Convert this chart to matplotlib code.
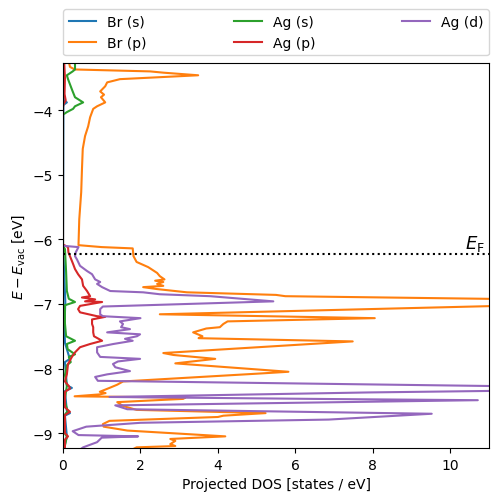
import matplotlib
matplotlib.use("Agg")
import matplotlib.pyplot as plt

# ---- data (energy in eV, projected DOS in states/eV) ----
E_F = -6.23

br_s_E = [-3.25, -3.85, -3.88, -3.92, -6.10, -6.50, -6.97, -7.30, -7.60, -7.80, -7.85, -7.90,
          -8.26, -8.30, -8.35, -8.66, -8.69, -8.73, -9.05, -9.25]
br_s_D = [0.01, 0.02, 0.10, 0.01, 0.00, 0.03, 0.06, 0.04, 0.05, 0.15, 0.18, 0.05,
          0.10, 0.23, 0.05, 0.10, 0.18, 0.05, 0.10, 0.02]

br_p_E = [-3.25, -3.33, -3.37, -3.40, -3.42, -3.46, -3.52, -3.57, -3.63, -3.71, -3.76, -3.80,
          -3.85, -3.88, -3.94, -3.98, -4.11, -4.25, -4.40, -4.60, -4.91, -5.27, -5.69, -6.09,
          -6.12, -6.14, -6.26, -6.35, -6.43, -6.52, -6.57, -6.62, -6.64, -6.66, -6.69, -6.72,
          -6.74, -6.77, -6.82, -6.86, -6.88, -6.96, -7.16, -7.22, -7.27, -7.31, -7.36, -7.38,
          -7.44, -7.50, -7.53, -7.58, -7.76, -7.79, -7.85, -7.92, -8.05, -8.08, -8.20, -8.25,
          -8.30, -8.36, -8.38, -8.40, -8.43, -8.45, -8.47, -8.52, -8.58, -8.64, -8.69, -8.73,
          -8.75, -8.81, -8.86, -8.90, -8.96, -9.05, -9.09, -9.12, -9.17, -9.20, -9.22, -9.25]
br_p_D = [0.15, 0.18, 0.30, 2.25, 2.60, 3.49, 1.47, 1.14, 1.09, 0.96, 1.06, 0.98,
          1.05, 1.09, 0.88, 0.78, 0.70, 0.65, 0.57, 0.51, 0.49, 0.47, 0.42, 0.40,
          1.00, 1.80, 1.82, 1.90, 2.20, 2.43, 2.50, 2.62, 2.38, 2.59, 2.43, 2.59,
          2.07, 2.43, 3.20, 5.50, 5.74, 16.0, 2.50, 8.05, 4.25, 4.14, 4.05, 3.70,
          3.36, 3.60, 3.50, 7.48, 2.59, 2.85, 3.93, 2.90, 5.82, 5.00, 1.55, 1.40,
          1.20, 0.95, 1.10, 0.95, 0.30, 3.16, 3.10, 1.40, 1.55, 1.90, 5.23, 4.14,
          4.00, 1.20, 1.03, 1.05, 1.66, 4.19, 2.77, 2.90, 2.77, 2.90, 1.90, 1.80]

ag_s_E = [-3.25, -3.37, -3.40, -3.46, -3.52, -3.60, -3.71, -3.80, -3.88, -3.94, -3.98, -4.03,
          -4.07, -6.10, -6.15, -6.50, -6.80, -6.92, -6.97, -7.02, -7.30, -7.50, -7.57, -7.62,
          -7.70, -7.78, -7.82, -7.90, -7.95, -8.10, -8.27, -8.50, -8.66, -8.72, -9.00, -9.05, -9.25]
ag_s_D = [0.31, 0.31, 0.25, 0.10, 0.13, 0.18, 0.25, 0.31, 0.52, 0.31, 0.26, 0.10,
          0.00, 0.00, 0.05, 0.08, 0.10, 0.15, 0.31, 0.05, 0.05, 0.08, 0.31, 0.10,
          0.12, 0.31, 0.15, 0.20, 0.10, 0.05, 0.10, 0.04, 0.12, 0.04, 0.04, 0.10, 0.03]

ag_p_E = [-3.25, -3.50, -3.75, -3.85, -3.90, -3.95, -6.08, -6.12, -6.20, -6.26, -6.38, -6.46,
          -6.54, -6.62, -6.72, -6.80, -6.88, -6.90, -6.93, -6.96, -6.97, -7.03, -7.08, -7.13,
          -7.19, -7.20, -7.24, -7.31, -7.36, -7.44, -7.50, -7.57, -7.62, -7.67, -7.75, -7.82,
          -7.93, -8.09, -8.20, -8.27, -8.31, -8.36, -8.60, -8.67, -8.72, -9.00, -9.05, -9.10, -9.25]
ag_p_D = [0.03, 0.05, 0.04, 0.07, 0.02, 0.00, 0.00, 0.13, 0.14, 0.18, 0.26, 0.31,
          0.39, 0.49, 0.52, 0.62, 0.70, 0.49, 0.83, 0.57, 1.01, 0.44, 0.39, 0.44,
          0.88, 1.09, 0.75, 0.75, 0.78, 0.78, 0.80, 1.01, 0.70, 0.44, 0.31, 0.23,
          0.13, 0.10, 0.05, 0.15, 0.18, 0.05, 0.05, 0.18, 0.05, 0.05, 0.13, 0.05, 0.05]

ag_d_E = [-3.25, -6.10, -6.12, -6.20, -6.26, -6.31, -6.41, -6.49, -6.54, -6.62, -6.66, -6.69,
          -6.74, -6.80, -6.82, -6.85, -6.88, -6.96, -7.04, -7.08, -7.16, -7.19, -7.22, -7.27,
          -7.31, -7.36, -7.39, -7.44, -7.47, -7.50, -7.54, -7.57, -7.62, -7.67, -7.75, -7.82,
          -7.85, -7.89, -7.93, -7.98, -8.04, -8.09, -8.13, -8.19, -8.31, -8.37, -8.44, -8.47,
          -8.49, -8.57, -8.63, -8.70, -8.79, -8.84, -8.90, -8.97, -9.03, -9.05, -9.07, -9.14, -9.22, -9.25]
ag_d_D = [0.00, 0.00, 0.40, 0.33, 0.31, 0.36, 0.44, 0.62, 0.75, 0.83, 0.96, 0.88,
          1.01, 1.22, 2.07, 2.50, 3.80, 5.43, 1.03, 0.96, 0.96, 1.03, 2.00, 1.47,
          1.55, 1.50, 1.73, 1.14, 1.99, 1.91, 1.60, 1.80, 1.30, 0.88, 0.88, 0.96,
          1.99, 1.42, 1.29, 1.35, 1.73, 1.14, 0.83, 0.90, 16.0, 7.89, 1.20, 6.47,
          10.71, 1.35, 1.66, 9.52, 6.86, 2.00, 0.60, 0.25, 0.40, 1.94, 1.00, 0.88, 0.52, 0.45]

series = [("Br (s)", br_s_E, br_s_D), ("Br (p)", br_p_E, br_p_D),
          ("Ag (s)", ag_s_E, ag_s_D), ("Ag (p)", ag_p_E, ag_p_D),
          ("Ag (d)", ag_d_E, ag_d_D)]

fig = plt.figure(figsize=(4.98, 5.02), dpi=100)
ax = fig.add_axes([0.1265, 0.1056, 0.8555, 0.7669])

for label, E, D in series:
    ax.plot(D, E, label=label, lw=1.5)

ax.axhline(E_F, color="black", ls=":", lw=1.5)
ax.text(10.9, E_F + 0.02, r"$E_{\mathrm{F}}$", ha="right", va="bottom", fontsize=13)

ax.set_xlim(0, 11)
ax.set_ylim(-9.23, -3.27)
ax.set_xticks([0, 2, 4, 6, 8, 10])
ax.set_yticks([-9, -8, -7, -6, -5, -4])
ax.set_xlabel("Projected DOS [states / eV]")
ax.set_ylabel(r"$E - E_{\mathrm{vac}}$ [eV]")
ax.legend(bbox_to_anchor=(0, 1.02, 1, 0.2), loc="lower left", mode="expand",
          borderaxespad=0, ncol=3)

fig.savefig("out.png", dpi=100)
